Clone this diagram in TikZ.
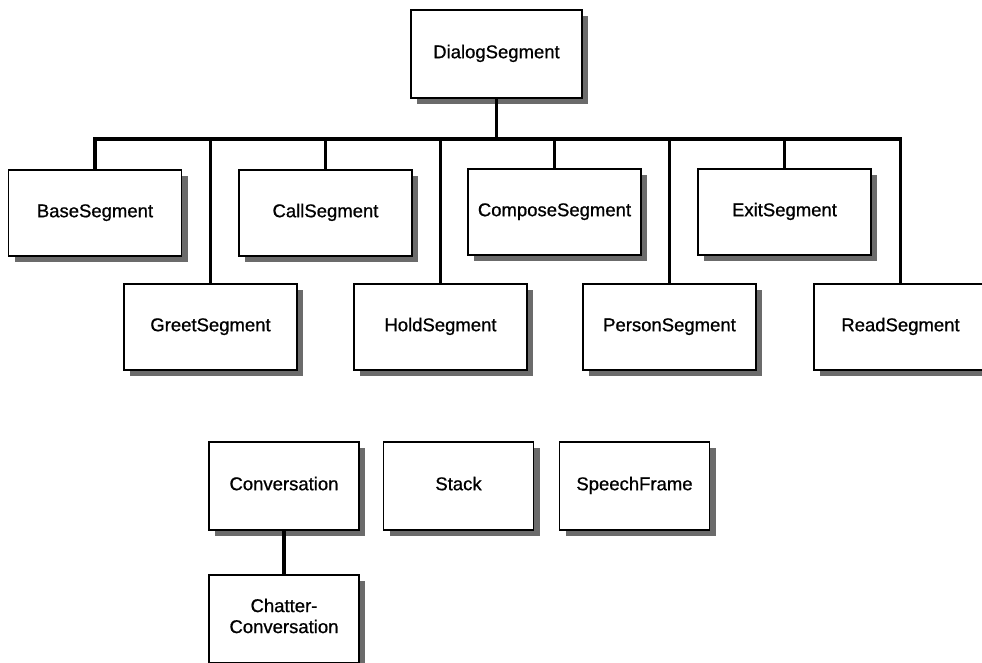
\documentclass[tikz,border=0pt]{standalone}
\usepackage{fontspec}
\setmainfont{Liberation Sans}
\newfontfamily\lblfont[RawFeature={embolden=0.8}]{Liberation Sans}
\usetikzlibrary{shadows}
\begin{document}
\begin{tikzpicture}[x=1pt,y=-1pt,
  cls/.style={draw=black, line width=1.4pt, fill=white,
    minimum width=173pt, minimum height=86pt, inner sep=0pt,
    align=center, font=\lblfont\fontsize{18.5}{21}\selectfont,
    execute at begin node=\strut,
    drop shadow={shadow xshift=6pt, shadow yshift=-6pt, fill=black!58, opacity=1}},
  small/.style={cls, minimum width=150pt, minimum height=88pt},
  link/.style={line width=3.8pt, line cap=butt, line join=miter}]
  \clip (0,0) rectangle (982,662);
  \fill[white] (0,0) rectangle (982,662);

  % root
  \node[cls, minimum width=171pt, minimum height=88pt] (dlg) at (496.5,54) {DialogSegment};

  % upper row of subclasses
  \node[cls] (base)    at (95,213)    {BaseSegment};
  \node[cls] (call)    at (325.5,213) {CallSegment};
  \node[cls] (compose) at (554.5,212) {ComposeSegment};
  \node[cls] (exit)    at (784.5,212) {ExitSegment};

  % lower row of subclasses
  \node[cls] (greet)  at (210.5,327) {GreetSegment};
  \node[cls] (hold)   at (440.5,327) {HoldSegment};
  \node[cls] (person) at (669.5,327) {PersonSegment};
  \node[cls] (read)   at (900.5,327) {ReadSegment};

  % separate classes
  \node[small] (conv)   at (284,486)   {Conversation};
  \node[small] (stack)  at (458.5,486) {Stack};
  \node[small] (speech) at (634.5,486) {SpeechFrame};
  \node[small] (chat)   at (284,619)   {Chatter-\\Conversation};

  % inheritance bus
  \coordinate (bus) at (496.5,139);
  \foreach \c in {base,call,compose,exit,greet,hold,person,read}
    \draw[link] (dlg.south) -- (dlg.south |- bus) -| (\c.north);
  \draw[link] (conv.south) -- (chat.north);
\end{tikzpicture}
\end{document}
